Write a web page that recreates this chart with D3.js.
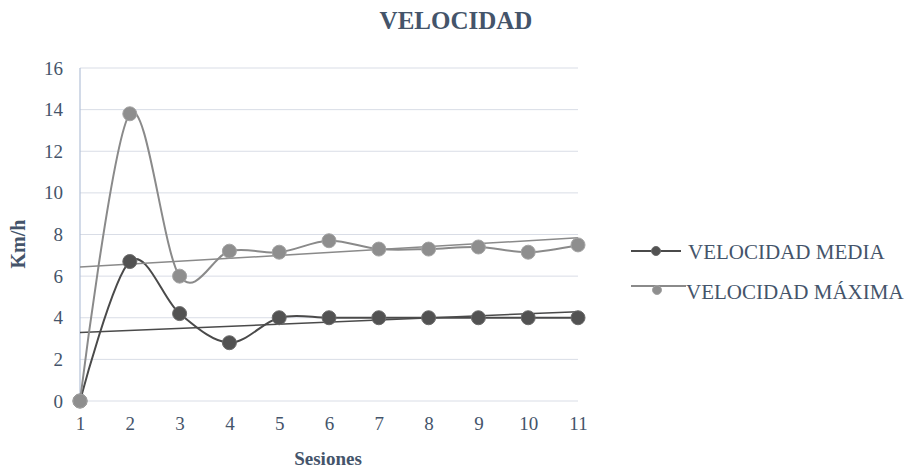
<!DOCTYPE html>
<html><head><meta charset="utf-8">
<script src="https://cdn.jsdelivr.net/npm/d3@7"></script>
<style>body{margin:0;background:#fff}</style>
</head><body>
<svg id="c" width="909" height="468"></svg>
<script>
const sesiones = [1,2,3,4,5,6,7,8,9,10,11];
const velocidadMedia = [0,6.7,4.2,2.8,4.0,4.0,4.0,4.0,4.0,4.0,4.0];
const velocidadMaxima = [0,13.8,6.0,7.2,7.15,7.7,7.3,7.3,7.4,7.15,7.5];
const yTicks = [0,2,4,6,8,10,12,14,16];
const seriesNames = ["VELOCIDAD MEDIA","VELOCIDAD MÁXIMA"];

const FONT = '"Liberation Serif"';
const svg = d3.select("#c");
const textCol = "#44546a";
const x = d3.scaleLinear().domain([1,11]).range([80,578]);
const y = d3.scaleLinear().domain([0,16]).range([401,68]);

// grid
svg.append("g").selectAll("line").data(yTicks).join("line")
  .attr("x1",80).attr("x2",578).attr("y1",d=>y(d)).attr("y2",d=>y(d))
  .attr("stroke","#d9dde6").attr("stroke-width",1);
svg.append("line").attr("x1",80).attr("x2",80).attr("y1",y(16)).attr("y2",y(0))
  .attr("stroke","#b4c2d8").attr("stroke-width",1.2);

// axes
const yAxis = svg.append("g").attr("transform","translate(63,0)")
  .call(d3.axisLeft(y).tickValues(yTicks).tickSize(0).tickPadding(0));
yAxis.select(".domain").remove();
yAxis.selectAll("text").style("font-family",FONT).style("font-size","19px").attr("fill",textCol);
const xAxis = svg.append("g").attr("transform","translate(0,416)")
  .call(d3.axisBottom(x).tickValues(sesiones).tickFormat(d3.format("d")).tickSize(0).tickPadding(0));
xAxis.select(".domain").remove();
xAxis.selectAll("text").style("font-family",FONT).style("font-size","19px").attr("fill",textCol);

svg.append("text").attr("x",456).attr("y",29).attr("text-anchor","middle")
  .style("font-family",FONT).style("font-weight","bold").style("font-size","25px").attr("fill",textCol).text("VELOCIDAD");
svg.append("text").attr("x",328).attr("y",465).attr("text-anchor","middle")
  .style("font-family",FONT).style("font-weight","bold").style("font-size","19px").attr("fill",textCol).text("Sesiones");
svg.append("text").attr("transform","translate(25,244) rotate(-90)").attr("text-anchor","middle")
  .style("font-family",FONT).style("font-weight","bold").style("font-size","20px").attr("fill",textCol).text("Km/h");

function trend(vals){
  const n=vals.length, mx=d3.mean(sesiones), my=d3.mean(vals);
  let sxy=0,sxx=0;
  sesiones.forEach((s,i)=>{sxy+=(s-mx)*(vals[i]-my);sxx+=(s-mx)*(s-mx);});
  const b=sxy/sxx, a=my-b*mx;
  return [sesiones[0],sesiones[n-1]].map(s=>[s,a+b*s]);
}

const series = [
  {vals:velocidadMedia, line:"#4a4a4a", fill:"#525252", stroke:"#6a6a6a"},
  {vals:velocidadMaxima, line:"#8a8a8a", fill:"#8e8e8e", stroke:"#a3a3a3"}
];
const lineGen = d3.line().x(d=>x(d[0])).y(d=>y(d[1])).curve(d3.curveCatmullRom.alpha(0));

series.forEach(s=>{
  const pts = sesiones.map((v,i)=>[v,s.vals[i]]);
  svg.append("path").attr("d",lineGen(pts)).attr("fill","none").attr("stroke",s.line).attr("stroke-width",2);
  svg.append("path").attr("d",d3.line().x(d=>x(d[0])).y(d=>y(d[1]))(trend(s.vals)))
    .attr("fill","none").attr("stroke",s.line).attr("stroke-width",1.5);
});
series.forEach(s=>{
  svg.append("g").selectAll("circle").data(sesiones.map((v,i)=>[v,s.vals[i]])).join("circle")
    .attr("cx",d=>x(d[0])).attr("cy",d=>y(d[1])).attr("r",7)
    .attr("fill",s.fill).attr("stroke",s.stroke).attr("stroke-width",1);
});

// legend
const leg = [{yl:251, ym:251, x1:631, x2:681, xm:656, xt:688, yt:259},
             {yl:286, ym:290, x1:631, x2:686, xm:657, xt:686, yt:299}];
leg.forEach((l,i)=>{
  const s=series[i];
  svg.append("line").attr("x1",l.x1).attr("x2",l.x2).attr("y1",l.yl).attr("y2",l.yl).attr("stroke",s.line).attr("stroke-width",2);
  svg.append("circle").attr("cx",l.xm).attr("cy",l.ym).attr("r",4.5).attr("fill",s.fill).attr("stroke",s.stroke);
  svg.append("text").attr("x",l.xt).attr("y",l.yt)
    .style("font-family",FONT).style("font-size","21px")
    .attr("fill",textCol).text(seriesNames[i]);
});
</script>
</body></html>
